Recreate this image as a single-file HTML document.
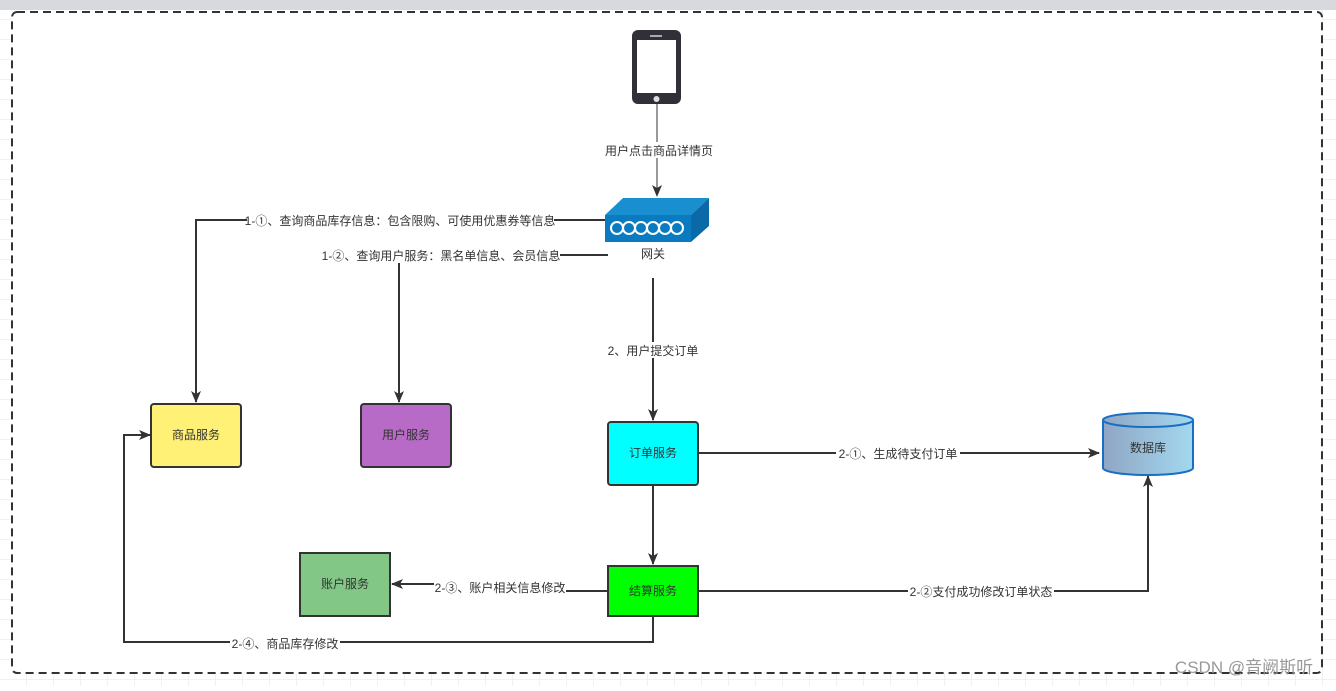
<!DOCTYPE html>
<html><head><meta charset="utf-8"><style>
body{margin:0;background:#fff;}
svg text{font-family:"Liberation Sans","Noto Sans CJK SC",sans-serif;font-size:12px;fill:#333;}
</style></head><body>
<svg width="1336" height="686" xmlns="http://www.w3.org/2000/svg">
<defs>
<pattern id="g" width="27" height="20" patternUnits="userSpaceOnUse"><path d="M27 0V20M0 20H27" stroke="#e6e6e6" fill="none"/></pattern>
<marker id="a" markerWidth="12" markerHeight="12" refX="11" refY="6" orient="auto" markerUnits="userSpaceOnUse"><path d="M0,1 L12,6 L0,11 L3,6Z" fill="#333"/></marker>
<linearGradient id="db" x1="0" x2="1"><stop offset="0" stop-color="#8fa6c4"/><stop offset="1" stop-color="#a3d8ef"/></linearGradient>
</defs>
<rect width="1336" height="686" fill="url(#g)"/>
<rect width="1336" height="10" fill="#d8d9de"/>
<rect x="12" y="12" width="1310" height="661" rx="5" fill="#fff" stroke="#333" stroke-width="2" stroke-dasharray="8,5"/>
<rect x="632" y="30" width="49" height="74" rx="6" fill="#2f3038"/>
<rect x="637" y="40" width="39" height="53" fill="#fff"/>
<rect x="650" y="35" width="12" height="2" fill="#aaa"/>
<circle cx="656.5" cy="99" r="3" fill="#ddd"/>
<polygon points="605,215 623,198 709,198 691,215" fill="#1a8fd0"/>
<polygon points="691,215 709,198 709,226 691,242" fill="#0a6aa8"/>
<rect x="605" y="215" width="86" height="27" fill="#0a7bc0"/>
<g fill="none" stroke="#fff" stroke-width="2">
<ellipse cx="617" cy="228" rx="6" ry="6"/><ellipse cx="629" cy="228" rx="6" ry="6"/><ellipse cx="641" cy="228" rx="6" ry="6"/><ellipse cx="653" cy="228" rx="6" ry="6"/><ellipse cx="665" cy="228" rx="6" ry="6"/><ellipse cx="677" cy="228" rx="6" ry="6"/>
</g>
<text x="653" y="258" text-anchor="middle">网关</text>
<g fill="none" stroke="#333" stroke-width="2">
<path d="M657 104V196" stroke-width="1" marker-end="url(#a)"/>
<path d="M605 220H196V402" marker-end="url(#a)"/>
<path d="M608 255H399V402" marker-end="url(#a)"/>
<path d="M653 278V420" marker-end="url(#a)"/>
<path d="M698 453H1099" marker-end="url(#a)"/>
<path d="M653 485V564" marker-end="url(#a)"/>
<path d="M608 591H500V584H392" marker-end="url(#a)"/>
<path d="M698 591H1148V476" marker-end="url(#a)"/>
<path d="M653 616V642H124V435H150" marker-end="url(#a)"/>
</g>
<g>
<rect x="603" y="142" width="110" height="16" fill="#fff"/><text x="659" y="155" text-anchor="middle">用户点击商品详情页</text>
<rect x="247" y="212" width="307" height="16" fill="#fff"/><text x="400" y="225" text-anchor="middle">1-①、查询商品库存信息：包含限购、可使用优惠券等信息</text>
<rect x="322" y="247" width="238" height="16" fill="#fff"/><text x="441" y="260" text-anchor="middle">1-②、查询用户服务：黑名单信息、会员信息</text>
<rect x="605" y="342" width="96" height="16" fill="#fff"/><text x="653" y="355" text-anchor="middle">2、用户提交订单</text>
<rect x="836" y="445" width="124" height="16" fill="#fff"/><text x="898" y="458" text-anchor="middle">2-①、生成待支付订单</text>
<rect x="434" y="579" width="132" height="16" fill="#fff"/><text x="500" y="592" text-anchor="middle">2-③、账户相关信息修改</text>
<rect x="908" y="583" width="146" height="16" fill="#fff"/><text x="981" y="596" text-anchor="middle">2-②支付成功修改订单状态</text>
<rect x="230" y="635" width="110" height="16" fill="#fff"/><text x="285" y="648" text-anchor="middle">2-④、商品库存修改</text>
</g>
<g stroke="#333" stroke-width="2">
<rect x="151" y="404" width="90" height="63" rx="3" fill="#fff176"/>
<rect x="361" y="404" width="90" height="63" rx="3" fill="#b86bc6"/>
<rect x="608" y="422" width="90" height="63" rx="3" fill="#00ffff"/>
<rect x="608" y="566" width="90" height="50" fill="#00ff00"/>
<rect x="300" y="553" width="90" height="63" fill="#82c785"/>
</g>
<text x="196" y="439" text-anchor="middle">商品服务</text>
<text x="406" y="439" text-anchor="middle">用户服务</text>
<text x="653" y="457" text-anchor="middle">订单服务</text>
<text x="653" y="595" text-anchor="middle">结算服务</text>
<text x="345" y="588" text-anchor="middle">账户服务</text>
<path d="M1103 420V468A45 7 0 0 0 1193 468V420" fill="url(#db)" stroke="#1a6fc4" stroke-width="2"/>
<ellipse cx="1148" cy="420" rx="45" ry="7" fill="url(#db)" stroke="#1a6fc4" stroke-width="2"/>
<text x="1148" y="452" text-anchor="middle">数据库</text>
<text x="1244" y="673" text-anchor="middle" style="font-size:17px;fill:#999">CSDN @音阙斯听</text>
</svg>
</body></html>
